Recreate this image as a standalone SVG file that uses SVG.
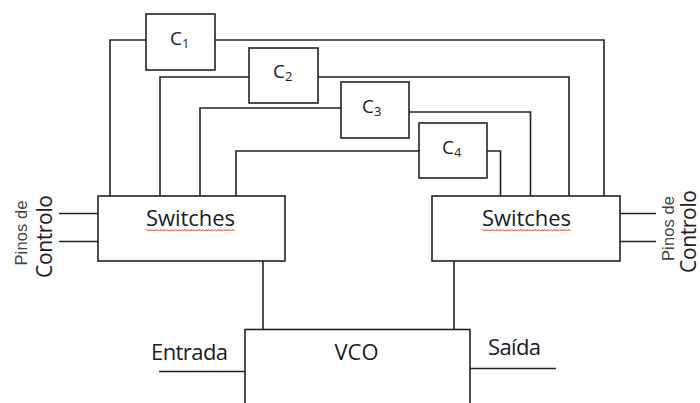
<svg xmlns="http://www.w3.org/2000/svg" width="700" height="403" viewBox="0 0 700 403">
<style>
.box{fill:#fff;stroke:#222;stroke-width:1.6}
.ln{fill:none;stroke:#222;stroke-width:1.6}
.t{font-family:"Open Sans","Liberation Sans",sans-serif;fill:#1a1a28}
.lab{font-size:22px}
.cap{font-size:19px}
.sub{font-size:13px}
.pin{font-family:"Liberation Sans",Arial,sans-serif;font-size:16.5px;fill:#444}
.ctl{font-family:"Open Sans","Liberation Sans",sans-serif;font-size:21px;fill:#1a1a28}
.wave{fill:none;stroke:#e03030;stroke-width:1}
</style>
<rect width="700" height="403" fill="#fff"/>
<g id="connectors">
<polyline class="ln" points="146,40 110,40 110,196"/>
<polyline class="ln" points="215,40 604,40 604,196"/>
<polyline class="ln" points="249,77 160,77 160,196"/>
<polyline class="ln" points="318,77 569,77 569,196"/>
<polyline class="ln" points="341,108 200,108 200,196"/>
<polyline class="ln" points="409,112 530.5,112 530.5,196"/>
<polyline class="ln" points="419,151 236,151 236,196"/>
<polyline class="ln" points="487,151 500.5,151 500.5,196"/>
<line class="ln" x1="263" y1="261" x2="263" y2="329"/>
<line class="ln" x1="454" y1="261" x2="454" y2="329"/>
<line class="ln" x1="59" y1="213.5" x2="98" y2="213.5"/>
<line class="ln" x1="59" y1="241.5" x2="98" y2="241.5"/>
<line class="ln" x1="620" y1="213.5" x2="656" y2="213.5"/>
<line class="ln" x1="620" y1="241.5" x2="656" y2="241.5"/>
<line class="ln" x1="159" y1="371.5" x2="245" y2="371.5"/>
<line class="ln" x1="470" y1="368.5" x2="556" y2="368.5"/>
</g>
<g id="C1">
<rect class="box" x="146" y="14" width="69" height="56"/>
<text class="t cap" x="170" y="45">C<tspan class="sub" dy="3">1</tspan></text>
</g>
<g id="C2">
<rect class="box" x="249" y="48" width="69" height="55"/>
<text class="t cap" x="273" y="78">C<tspan class="sub" dy="3">2</tspan></text>
</g>
<g id="C3">
<rect class="box" x="341" y="82" width="68" height="56"/>
<text class="t cap" x="362" y="113">C<tspan class="sub" dy="3">3</tspan></text>
</g>
<g id="C4">
<rect class="box" x="419" y="123" width="68" height="55"/>
<text class="t cap" x="442" y="153.5">C<tspan class="sub" dy="3">4</tspan></text>
</g>
<g id="switches-left">
<rect class="box" x="98" y="196" width="187" height="65"/>
<text class="t lab" x="190.5" y="226" text-anchor="middle" textLength="89">Switches</text>
<path class="wave" d="M146,229.5 l1.5,1.5 l1.5,-1.5 l1.5,1.5 l1.5,-1.5 l1.5,1.5 l1.5,-1.5 l1.5,1.5 l1.5,-1.5 l1.5,1.5 l1.5,-1.5 l1.5,1.5 l1.5,-1.5 l1.5,1.5 l1.5,-1.5 l1.5,1.5 l1.5,-1.5 l1.5,1.5 l1.5,-1.5 l1.5,1.5 l1.5,-1.5 l1.5,1.5 l1.5,-1.5 l1.5,1.5 l1.5,-1.5 l1.5,1.5 l1.5,-1.5 l1.5,1.5 l1.5,-1.5 l1.5,1.5 l1.5,-1.5 l1.5,1.5 l1.5,-1.5 l1.5,1.5 l1.5,-1.5 l1.5,1.5 l1.5,-1.5 l1.5,1.5 l1.5,-1.5 l1.5,1.5 l1.5,-1.5 l1.5,1.5 l1.5,-1.5 l1.5,1.5 l1.5,-1.5 l1.5,1.5 l1.5,-1.5 l1.5,1.5 l1.5,-1.5 l1.5,1.5 l1.5,-1.5 l1.5,1.5 l1.5,-1.5 l1.5,1.5 l1.5,-1.5 l1.5,1.5 l1.5,-1.5 l1.5,1.5 l1.5,-1.5 l1.5,1.5"/>
</g>
<g id="switches-right">
<rect class="box" x="432" y="196" width="188" height="65"/>
<text class="t lab" x="526.5" y="226" text-anchor="middle" textLength="89">Switches</text>
<path class="wave" d="M482,229.5 l1.5,1.5 l1.5,-1.5 l1.5,1.5 l1.5,-1.5 l1.5,1.5 l1.5,-1.5 l1.5,1.5 l1.5,-1.5 l1.5,1.5 l1.5,-1.5 l1.5,1.5 l1.5,-1.5 l1.5,1.5 l1.5,-1.5 l1.5,1.5 l1.5,-1.5 l1.5,1.5 l1.5,-1.5 l1.5,1.5 l1.5,-1.5 l1.5,1.5 l1.5,-1.5 l1.5,1.5 l1.5,-1.5 l1.5,1.5 l1.5,-1.5 l1.5,1.5 l1.5,-1.5 l1.5,1.5 l1.5,-1.5 l1.5,1.5 l1.5,-1.5 l1.5,1.5 l1.5,-1.5 l1.5,1.5 l1.5,-1.5 l1.5,1.5 l1.5,-1.5 l1.5,1.5 l1.5,-1.5 l1.5,1.5 l1.5,-1.5 l1.5,1.5 l1.5,-1.5 l1.5,1.5 l1.5,-1.5 l1.5,1.5 l1.5,-1.5 l1.5,1.5 l1.5,-1.5 l1.5,1.5 l1.5,-1.5 l1.5,1.5 l1.5,-1.5 l1.5,1.5 l1.5,-1.5 l1.5,1.5 l1.5,-1.5 l1.5,1.5"/>
</g>
<g id="vco">
<rect class="box" x="245" y="329.5" width="225" height="100"/>
<text class="t lab" x="356.5" y="359.5" text-anchor="middle" textLength="44">VCO</text>
</g>
<g id="entrada">
<text class="t lab" x="151" y="360" textLength="77">Entrada</text>
</g>
<g id="saida">
<text class="t lab" x="488" y="355" textLength="53">Saída</text>
</g>
<g id="pinos-left">
<text class="pin" transform="translate(26.5,233) rotate(-90)" text-anchor="middle" textLength="65">Pinos de</text>
<text class="ctl" transform="translate(51.5,236.5) rotate(-90)" text-anchor="middle" textLength="83">Controlo</text>
</g>
<g id="pinos-right">
<text class="pin" transform="translate(673.5,228.5) rotate(-90)" text-anchor="middle" textLength="65">Pinos de</text>
<text class="ctl" transform="translate(695.5,231.5) rotate(-90)" text-anchor="middle" textLength="83">Controlo</text>
</g>
</svg>
